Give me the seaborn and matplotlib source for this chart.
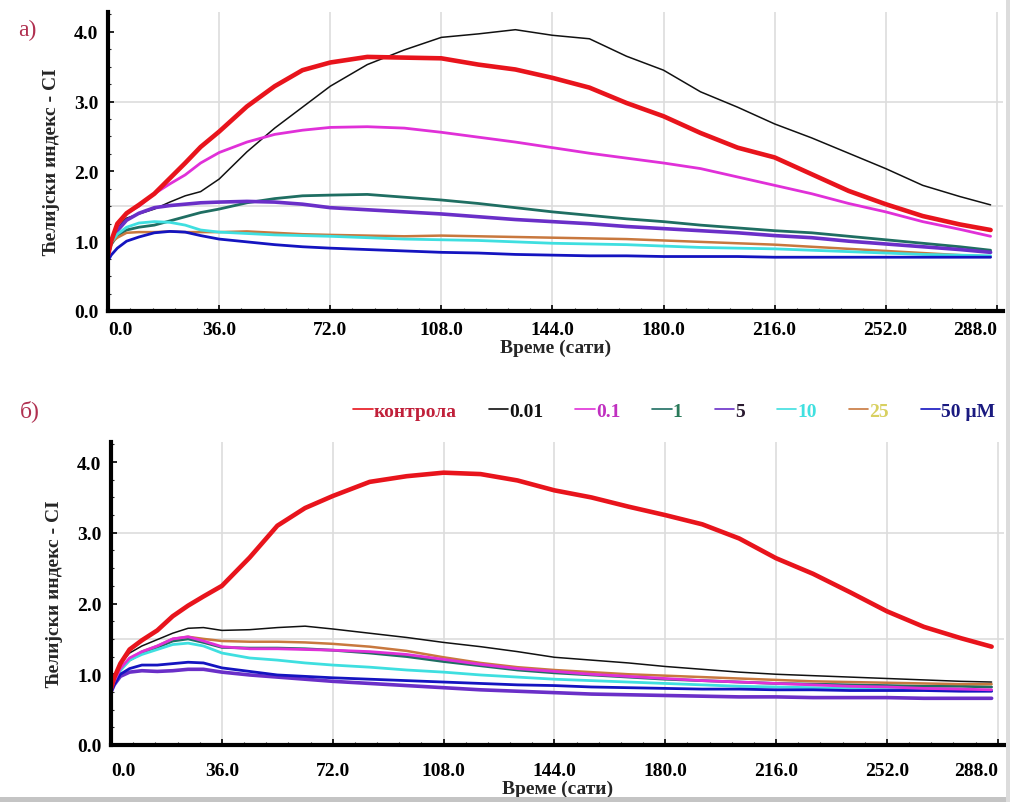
import numpy as np
import pandas as pd
import seaborn as sns
import matplotlib.pyplot as plt
from matplotlib.lines import Line2D
from matplotlib.patches import Rectangle
from matplotlib.ticker import MultipleLocator

sns.set_theme(style="white")
plt.rcParams["font.family"] = ["Liberation Serif", "DejaVu Serif"]

hours = [0, 1, 3, 6, 10, 15, 20, 25, 30, 36, 45, 54, 63, 72, 84, 96, 108, 120,
         132, 144, 156, 168, 180, 192, 204, 216, 228, 240, 252, 264, 276, 286]

series = ["контрола", "0.01", "0.1", "1", "5", "10", "25", "50 µM"]

# panel a)
a_control = [0.80, 1.00, 1.25, 1.40, 1.52, 1.68, 1.90, 2.12, 2.35, 2.57, 2.93, 3.22, 3.45, 3.56, 3.64, 3.63,
             3.62, 3.53, 3.46, 3.34, 3.20, 2.98, 2.79, 2.55, 2.34, 2.20, 1.96, 1.72, 1.53, 1.36, 1.24, 1.16]
a_001 = [0.80, 1.00, 1.20, 1.33, 1.39, 1.46, 1.56, 1.65, 1.71, 1.89, 2.28, 2.62, 2.92, 3.22, 3.53, 3.74,
         3.92, 3.97, 4.03, 3.95, 3.90, 3.65, 3.45, 3.14, 2.92, 2.68, 2.48, 2.26, 2.04, 1.80, 1.64, 1.52]
a_01 = [0.80, 1.00, 1.22, 1.40, 1.50, 1.68, 1.82, 1.95, 2.12, 2.27, 2.42, 2.53, 2.59, 2.63, 2.64, 2.62,
        2.56, 2.49, 2.42, 2.34, 2.26, 2.19, 2.12, 2.04, 1.92, 1.80, 1.68, 1.54, 1.42, 1.28, 1.17, 1.07]
a_1 = [0.80, 0.95, 1.08, 1.16, 1.20, 1.23, 1.29, 1.35, 1.41, 1.46, 1.55, 1.61, 1.65, 1.66, 1.67, 1.63,
       1.59, 1.54, 1.48, 1.42, 1.37, 1.32, 1.28, 1.23, 1.19, 1.15, 1.12, 1.07, 1.02, 0.97, 0.92, 0.87]
a_5 = [0.80, 1.00, 1.15, 1.30, 1.40, 1.48, 1.51, 1.53, 1.55, 1.56, 1.57, 1.56, 1.53, 1.48, 1.45, 1.42,
       1.39, 1.35, 1.31, 1.28, 1.25, 1.21, 1.18, 1.15, 1.12, 1.08, 1.05, 1.00, 0.96, 0.92, 0.88, 0.84]
a_10 = [0.80, 0.98, 1.10, 1.20, 1.26, 1.28, 1.27, 1.23, 1.16, 1.13, 1.11, 1.09, 1.08, 1.07, 1.05, 1.03,
        1.02, 1.01, 0.99, 0.97, 0.96, 0.95, 0.93, 0.91, 0.90, 0.89, 0.87, 0.85, 0.83, 0.81, 0.80, 0.79]
a_25 = [0.80, 0.98, 1.05, 1.12, 1.13, 1.13, 1.14, 1.13, 1.13, 1.13, 1.14, 1.12, 1.10, 1.09, 1.08, 1.07,
        1.08, 1.07, 1.06, 1.05, 1.04, 1.03, 1.01, 0.99, 0.97, 0.95, 0.92, 0.89, 0.86, 0.83, 0.80, 0.78]
a_50 = [0.72, 0.80, 0.90, 1.00, 1.06, 1.12, 1.14, 1.13, 1.08, 1.03, 0.99, 0.95, 0.92, 0.90, 0.88, 0.86,
        0.84, 0.83, 0.81, 0.80, 0.79, 0.79, 0.78, 0.78, 0.78, 0.77, 0.77, 0.77, 0.77, 0.77, 0.77, 0.77]

# panel б)
b_control = [0.80, 0.95, 1.15, 1.35, 1.48, 1.62, 1.82, 1.97, 2.10, 2.25, 2.65, 3.10, 3.35, 3.52, 3.72, 3.80,
             3.85, 3.83, 3.74, 3.60, 3.50, 3.37, 3.25, 3.12, 2.92, 2.64, 2.42, 2.16, 1.89, 1.67, 1.51, 1.39]
b_001 = [0.80, 0.91, 1.15, 1.30, 1.40, 1.49, 1.58, 1.65, 1.66, 1.62, 1.63, 1.66, 1.68, 1.64, 1.58, 1.52,
         1.45, 1.39, 1.32, 1.24, 1.20, 1.16, 1.11, 1.07, 1.03, 1.00, 0.98, 0.96, 0.94, 0.92, 0.90, 0.89]
b_01 = [0.78, 0.90, 1.08, 1.23, 1.32, 1.40, 1.50, 1.53, 1.47, 1.39, 1.36, 1.36, 1.35, 1.34, 1.32, 1.28,
        1.21, 1.14, 1.08, 1.04, 1.00, 0.97, 0.94, 0.91, 0.89, 0.87, 0.85, 0.83, 0.82, 0.80, 0.79, 0.78]
b_1 = [0.80, 0.90, 1.07, 1.20, 1.30, 1.38, 1.47, 1.50, 1.45, 1.38, 1.37, 1.37, 1.36, 1.34, 1.30, 1.25,
       1.18, 1.12, 1.06, 1.02, 0.99, 0.96, 0.93, 0.91, 0.89, 0.87, 0.86, 0.85, 0.84, 0.83, 0.83, 0.82]
b_5 = [0.75, 0.85, 0.97, 1.03, 1.05, 1.04, 1.05, 1.07, 1.07, 1.03, 0.99, 0.96, 0.93, 0.90, 0.87, 0.84,
       0.81, 0.78, 0.76, 0.74, 0.72, 0.71, 0.70, 0.69, 0.68, 0.68, 0.67, 0.67, 0.67, 0.66, 0.66, 0.66]
b_10 = [0.78, 0.88, 1.05, 1.20, 1.28, 1.35, 1.42, 1.44, 1.40, 1.30, 1.23, 1.20, 1.16, 1.13, 1.10, 1.06,
        1.03, 0.99, 0.96, 0.93, 0.91, 0.89, 0.87, 0.85, 0.83, 0.82, 0.81, 0.80, 0.79, 0.78, 0.77, 0.77]
b_25 = [0.80, 0.90, 1.08, 1.22, 1.32, 1.40, 1.50, 1.53, 1.50, 1.47, 1.46, 1.46, 1.45, 1.43, 1.39, 1.33,
        1.24, 1.16, 1.10, 1.06, 1.03, 1.00, 0.98, 0.96, 0.94, 0.92, 0.90, 0.89, 0.88, 0.87, 0.86, 0.86]
b_50 = [0.75, 0.85, 1.00, 1.08, 1.13, 1.13, 1.15, 1.17, 1.16, 1.09, 1.04, 0.99, 0.97, 0.95, 0.93, 0.91,
        0.89, 0.87, 0.85, 0.84, 0.82, 0.81, 0.80, 0.79, 0.79, 0.78, 0.78, 0.77, 0.77, 0.77, 0.76, 0.76]

line_colors = {"контрола": "#e8141c", "0.01": "#111111", "0.1": "#e030d8", "1": "#1f6e62",
               "5": "#6a2fc8", "10": "#3fdfe0", "25": "#c8783e", "50 µM": "#1414c0"}
line_widths = {"контрола": 3.3, "0.01": 1.1, "0.1": 2.0, "1": 2.0,
               "5": 2.6, "10": 2.0, "25": 1.8, "50 µM": 2.0}
text_colors = ["#c0203a", "#111111", "#c030c0", "#2a7a5a", "#2a1a30", "#40e0e0", "#d8d060", "#1a1a80"]

panel_a = dict(zip(series, [a_control, a_001, a_01, a_1, a_5, a_10, a_25, a_50]))
panel_b = dict(zip(series, [b_control, b_001, b_01, b_1, b_5, b_10, b_25, b_50]))

fig = plt.figure(figsize=(10.1, 8.03), dpi=100)
ax_a = fig.add_axes([0.107, 0.6115, 0.886, 0.372])
ax_b = fig.add_axes([0.110, 0.071, 0.884, 0.377])

draw_order = ["0.01", "1", "5", "25", "10", "50 µM", "0.1", "контрола"]
x_ticks = np.arange(0, 289, 36)

for ax, panel, xpad in [(ax_a, panel_a, 7), (ax_b, panel_b, 12)]:
    long = (pd.DataFrame(panel, index=hours).rename_axis("hours").reset_index()
            .melt(id_vars="hours", var_name="conc", value_name="ci"))
    for conc in draw_order:
        sub = long[long["conc"] == conc]
        sns.lineplot(data=sub, x="hours", y="ci", color=line_colors[conc],
                     linewidth=line_widths[conc], ax=ax, legend=False)

    ax.set_xlim(0, 290)
    ax.set_ylim(0, 4.28)
    ax.set_xticks(x_ticks)
    ax.set_xticklabels([f"{v:.1f}" for v in x_ticks])
    ax.set_yticks([0, 1, 2, 3, 4])
    ax.set_yticklabels(["0.0", "1.0", "2.0", "3.0", "4.0"])
    ax.xaxis.set_minor_locator(MultipleLocator(7.2))
    ax.yaxis.set_minor_locator(MultipleLocator(0.25))
    ax.tick_params(axis="both", which="major", direction="in", length=4, width=1.2,
                   labelsize=14, pad=7, colors="black")
    ax.tick_params(axis="x", which="major", pad=xpad)
    ax.tick_params(axis="both", which="minor", direction="in", length=2.5, width=0.8)
    ax.tick_params(axis="both", which="both", bottom=True, left=True)
    for lab in ax.get_xticklabels() + ax.get_yticklabels():
        lab.set_fontweight("bold")
    xl = ax.get_xticklabels()
    xl[0].set_horizontalalignment("left")
    xl[-1].set_horizontalalignment("right")
    ax.grid(axis="x", color="#dddddd", linewidth=1.2)
    for yv in [1.5, 3.0]:
        ax.axhline(yv, color="#dddddd", linewidth=1.2, zorder=0)
    for side in ["top", "right"]:
        ax.spines[side].set_visible(False)
    for side in ["left", "bottom"]:
        ax.spines[side].set_linewidth(3)
        ax.spines[side].set_color("black")
    ax.set_ylabel("Ћелијски индекс - CI", fontsize=14, fontweight="bold", labelpad=10)
    ax.set_xlabel("Време (сати)", fontsize=14, fontweight="bold", labelpad=1)

fig.text(0.018, 0.962, "a)", fontsize=17, color="#b03050", va="center")
fig.text(0.020, 0.488, "б)", fontsize=17, color="#b03050", va="center")

handles = [Line2D([], [], color=line_colors[s], linewidth=1.2) for s in series]
fig.legend(handles, series, loc="center right", bbox_to_anchor=(1.003, 0.487), ncol=8,
           frameon=False, handlelength=1.0, handletextpad=0.05, columnspacing=1.65,
           labelcolor=text_colors, prop={"weight": "bold", "size": 14})

# soft grey shadow along the bottom and right edges
fig.add_artist(Rectangle((0, 0), 1, 0.006, transform=fig.transFigure, color="#c4c4c4", lw=0))
fig.add_artist(Rectangle((0.996, 0), 0.004, 1, transform=fig.transFigure, color="#dcdcdc", lw=0))

fig.savefig("out.png", dpi=100, facecolor="white")
